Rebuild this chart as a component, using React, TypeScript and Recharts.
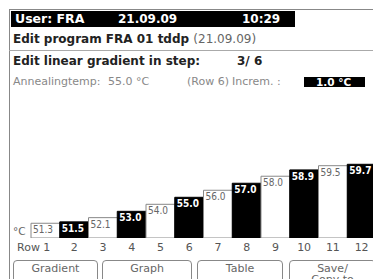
import React from "react"
import { BarChart, Bar, XAxis, YAxis, Cell, LabelList } from "recharts"

// Werte der Gradientenzeilen
const rows = ["1", "2", "3", "4", "5", "6", "7", "8", "9", "10", "11", "12"]
const temps = [51.3, 51.5, 52.1, 53.0, 54.0, 55.0, 56.0, 57.0, 58.0, 58.9, 59.5, 59.7]
const rowLabels = ["Row 1", "2", "3", "4", "5", "6", "7", "8", "9", "10", "11", "12"]
const buttons = ["Gradient", "Graph", "Table", "Save/\nCopy to"]

const FONT = "'DejaVu Sans', Verdana, sans-serif"
const COND = "'DejaVu Sans Condensed', 'DejaVu Sans', sans-serif"

const chartData = rows.map((row, i) => ({ row, temp: temps[i] }))

const RowTick = ({ x, y, payload, index }: any) => {
  const label = rowLabels[index] ?? payload.value
  return (
    <text
      x={index === 0 ? x + 5 : x}
      y={y + 11}
      textAnchor={index === 0 ? "end" : "middle"}
      fontSize={11}
      fontFamily={FONT}
      fill="#555"
    >
      {label}
    </text>
  )
}

const BarValue = ({ x, y, value, index }: any) => {
  const dark = index % 2 === 1
  return (
    <text
      x={x + 2}
      y={y + 10}
      fontSize={10}
      fontFamily={COND}
      fontWeight={dark ? "bold" : "normal"}
      fill={dark ? "#fff" : "#666"}
    >
      {Number(value).toFixed(1)}
    </text>
  )
}

const abs = (left: number, top: number, extra: React.CSSProperties = {}): React.CSSProperties => ({
  position: "absolute",
  left,
  top,
  whiteSpace: "pre",
  lineHeight: 1,
  ...extra,
})

export default function App() {
  const btnPos = [
    [13, 98],
    [102, 192],
    [197, 283],
    [289, 376],
  ]
  return (
    <div
      style={{
        position: "fixed",
        left: 0,
        top: 0,
        width: 373,
        height: 279,
        overflow: "hidden",
        background: "#fff",
        fontFamily: FONT,
      }}
    >
      {/* Rahmen */}
      <div style={abs(9, 9, { width: 370, height: 1, background: "#888" })} />
      <div style={abs(9, 9, { width: 1, height: 280, background: "#888" })} />
      <div style={abs(9, 50, { width: 370, height: 1, background: "#aaa" })} />

      {/* Kopfzeile */}
      <div style={abs(11, 11, { width: 284, height: 16, background: "#000" })} />
      <div style={abs(15, 13, { color: "#fff", fontSize: 12.5, fontWeight: "bold" })}>User: FRA</div>
      <div style={abs(118, 13, { color: "#fff", fontSize: 12, fontWeight: "bold" })}>21.09.09</div>
      <div style={abs(242, 13, { color: "#fff", fontSize: 12, fontWeight: "bold" })}>10:29</div>

      <div style={abs(13, 33, { fontSize: 12, fontWeight: "bold", color: "#222" })}>
        Edit program FRA 01 tddp <span style={{ fontWeight: "normal", color: "#666" }}>(21.09.09)</span>
      </div>

      <div style={abs(13, 55, { fontSize: 12, fontWeight: "bold", color: "#222" })}>Edit linear gradient in step:</div>
      <div style={abs(237, 55, { fontSize: 12, fontWeight: "bold", color: "#222" })}>3/ 6</div>

      <div style={abs(13, 76, { fontSize: 11, color: "#888" })}>Annealingtemp:</div>
      <div style={abs(108, 76, { fontSize: 11, color: "#888" })}>55.0 °C</div>
      <div style={abs(187, 76, { fontSize: 11, color: "#888" })}>(Row 6)</div>
      <div style={abs(232, 76, { fontSize: 11, color: "#888" })}>Increm. :</div>
      <div style={abs(304, 77, { width: 61, height: 10, background: "#000" })} />
      <div style={abs(316, 76.5, { fontSize: 10.5, fontWeight: "bold", color: "#fff" })}>1.0 °C</div>

      <div style={abs(13, 226, { fontSize: 10.5, color: "#666" })}>°C</div>

      <div style={abs(0, 0)}>
        <BarChart
          width={380}
          height={279}
          data={chartData}
          margin={{ top: 99, right: 4, left: 31, bottom: 29 }}
          barCategoryGap={0}
        >
          <XAxis
            dataKey="row"
            height={12}
            axisLine={false}
            tickLine={false}
            tickSize={0}
            interval={0}
            tick={<RowTick />}
          />
          <YAxis hide type="number" domain={[49.2, 69]} allowDataOverflow />
          <Bar dataKey="temp" isAnimationActive={false}>
            {chartData.map((d, i) => (
              <Cell
                key={d.row}
                fill={i % 2 === 1 ? "#000" : "#fff"}
                stroke={i % 2 === 1 ? "#000" : "#888"}
                strokeWidth={1}
              />
            ))}
            <LabelList dataKey="temp" content={<BarValue />} />
          </Bar>
        </BarChart>
      </div>

      {/* Tasten */}
      {buttons.map((b, i) => (
        <div
          key={b}
          style={abs(btnPos[i][0], 260, {
            width: btnPos[i][1] - btnPos[i][0] - 2,
            height: 30,
            border: "1px solid #888",
            borderRadius: "4px 4px 0 0",
            textAlign: "center",
            fontSize: 11,
            color: "#666",
            paddingTop: 2,
            lineHeight: "11px",
          })}
        >
          {b}
        </div>
      ))}
    </div>
  )
}
